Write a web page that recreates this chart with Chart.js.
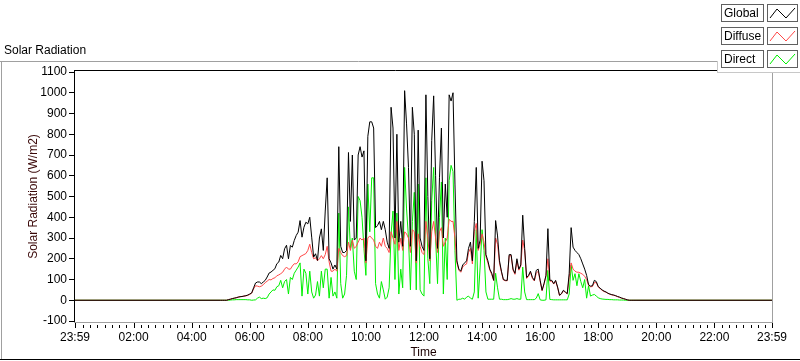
<!DOCTYPE html>
<html>
<head>
<meta charset="utf-8">
<script src="https://cdn.jsdelivr.net/npm/chart.js@4.4.0/dist/chart.umd.min.js"></script>
<style>
  html, body { margin: 0; padding: 0; background: #fff; }
</style>
</head>
<body>
<canvas id="solarChart" width="800" height="361"></canvas>
<script>
'use strict'

// time axis runs from 23:59 the day before to 23:59 (minutes)
const axisStart = -1
const axisEnd = 1439
const xMajorTimes = [-1, 120, 240, 360, 480, 600, 720, 840, 960, 1080, 1200, 1320, 1439]
const yTicks = [-100, 0, 100, 200, 300, 400, 500, 600, 700, 800, 900, 1000, 1100]

// samples every 4 minutes starting 05:00, zero outside
const sampleStartMin = 300
const sampleStepMin = 4

const globalWm2 = [
  0, 0, 0, 0,
  3, 5, 8, 10, 12, 15, 17, 18, 20, 22, 25, 30, 35,
  60, 83, 88, 88, 80, 88, 96, 112, 131, 136, 144, 152, 176, 184,
  216, 200, 248, 265, 200, 264, 256, 288, 312, 328, 384, 304, 352, 376, 368, 400, 304, 208, 224, 192, 300, 344, 240,
  430, 590, 200, 180, 150, 170, 150, 740, 260, 230, 230, 240, 712, 380, 700, 290, 300, 700, 740, 690, 720, 190,
  790, 860, 860, 830, 350, 360, 380, 340, 380, 340, 280, 250, 930, 830, 300, 800, 280, 380, 260, 1010, 850, 640, 260, 930, 800,
  190, 820, 300, 260, 240, 990, 500, 200, 770, 985, 600, 250, 590, 830, 300, 560, 400, 990, 960, 1000, 560,
  190, 150, 140, 170, 180, 190, 250, 280, 190, 380, 640, 250, 290, 670, 576, 220, 190, 150, 130, 96,
  384, 310, 190, 140, 100, 96, 96, 220, 220, 150, 130, 200, 150, 170, 410, 250, 110, 120, 140, 110, 96,
  144, 150, 96, 48, 80, 120, 345, 96, 96, 80, 96, 64, 24, 32, 48, 40, 32,
  130, 350, 256, 240, 230, 220, 200, 175, 150, 120, 75, 68, 70, 96, 90, 66, 58, 50, 44, 40, 34, 30, 27, 25, 22, 18, 15, 11, 8, 5, 2, 0, 0, 0, 0, 0
]

const diffuseWm2 = [
  0, 0, 0, 0,
  3, 5, 8, 10, 12, 15, 17, 18, 20, 21, 24, 28, 34,
  55, 70, 68, 65, 68, 75, 85, 92, 100, 98, 105, 108, 118, 122,
  128, 135, 150, 160, 150, 150, 165, 176, 175, 185, 210, 215, 220, 225, 240, 270, 230, 200, 205, 190, 200, 215, 200,
  220, 260, 185, 140, 140, 150, 140, 250, 230, 215, 210, 215, 280, 240, 290, 250, 260, 280, 300, 290, 300, 180,
  300, 310, 300, 290, 260, 250, 280, 260, 300, 260, 250, 230, 330, 300, 270, 380, 240, 300, 240, 330, 320, 300, 230, 340, 330,
  180, 320, 260, 230, 220, 380, 300, 190, 330, 380, 300, 230, 330, 350, 260, 280, 300, 390, 380, 380, 300,
  180, 145, 135, 160, 170, 175, 230, 250, 175, 330, 370, 240, 270, 320, 280, 210, 180, 145, 125, 95,
  300, 270, 180, 135, 98, 94, 94, 215, 215, 145, 125, 190, 145, 165, 290, 240, 105, 115, 135, 105, 93,
  130, 140, 92, 46, 78, 115, 200, 92, 92, 78, 92, 62, 23, 30, 46, 38, 31,
  110, 180, 150, 140, 135, 135, 130, 125, 115, 100, 72, 65, 66, 85, 85, 64, 56, 48, 42, 39, 33, 29, 26, 24, 21, 17, 14, 10, 8, 5, 2, 0, 0, 0, 0, 0
]

const directWm2 = [
  0, 0, 0, 0,
  0, 1, 2, 2, 3, 3, 3, 3, 3, 3, 2, 2, 0,
  1, 2, 10, 15, 8, 10, 8, 12, 30, 40, 50, 48, 65, 70,
  96, 60, 90, 100, 30, 110, 100, 130, 145, 160, 180, 20, 150, 130, 30, 140, 40, 10, 25, 90, 20, 140, 60,
  150, 150, 10, 110, 20, 40, 10, 420, 80, 10, 30, 120, 450, 250, 300, 140, 100, 500, 480, 400, 250, 120,
  560, 330, 590, 590, 80, 30, 10, 90, 50, 5, 15, 60, 320, 430, 100, 420, 30, 150, 60, 640, 440, 300, 50, 380, 520,
  50, 560, 50, 30, 20, 590, 200, 80, 480, 640, 300, 80, 400, 570, 30, 300, 100, 576, 650, 620, 240,
  0, 5, 5, 10, 5, 15, 20, 10, 5, 40, 340, 10, 160, 340, 240, 40, 5, 5, 5, 5,
  130, 60, 5, 5, 3, 3, 3, 5, 8, 5, 5, 8, 5, 5, 160, 40, 3, 3, 3, 3, 3,
  10, 32, 2, 0, 0, 2, 144, 4, 3, 2, 2, 2, 2, 2, 2, 2, 2,
  30, 170, 96, 128, 70, 128, 90, 60, 100, 10, 70, 20, 25, 28, 20, 12, 8, 6, 5, 4, 4, 3, 3, 2, 2, 2, 1, 1, 1, 0, 0, 0, 0, 0, 0, 0
]

const seriesNames = ['Global', 'Diffuse', 'Direct']
const seriesColors = ['#000000', '#ff4848', '#00f000']

const FONT = '"Liberation Sans", Arial, sans-serif'

function toPoints (values) {
  const pts = [{ x: axisStart, y: 0 }]
  values.forEach((v, i) => pts.push({ x: sampleStartMin + i * sampleStepMin, y: v }))
  pts.push({ x: axisEnd, y: 0 })
  return pts
}

function timeLabel (v) {
  if (v === axisStart || v === axisEnd) return '23:59'
  const h = Math.floor(v / 60)
  const m = v % 60
  return String(h).padStart(2, '0') + ':' + String(m).padStart(2, '0')
}

// frame, x ticks, title and legend drawn the LabVIEW way
const labviewFrame = {
  id: 'labviewFrame',
  beforeDraw (chart) {
    const ctx = chart.ctx
    ctx.save()
    ctx.fillStyle = '#fff'
    ctx.fillRect(0, 0, chart.width, chart.height)
    ctx.restore()
  },
  afterDraw (chart) {
    const ctx = chart.ctx
    const xs = chart.scales.x
    ctx.save()

    // title
    ctx.fillStyle = '#000'
    ctx.font = '12px ' + FONT
    ctx.textBaseline = 'middle'
    ctx.textAlign = 'left'
    ctx.fillText('Solar Radiation', 4, 51)

    // outer frame
    ctx.lineWidth = 1
    ctx.strokeStyle = '#a0a0a0'
    ctx.beginPath()
    ctx.moveTo(0, 61.5); ctx.lineTo(717, 61.5)
    ctx.moveTo(1.5, 61); ctx.lineTo(1.5, 359)
    ctx.stroke()
    ctx.strokeStyle = '#000'
    ctx.beginPath()
    ctx.moveTo(0, 359.5); ctx.lineTo(800, 359.5)
    ctx.stroke()

    // plot border: dark top/left, grey bottom/right
    ctx.strokeStyle = '#000'
    ctx.beginPath()
    ctx.moveTo(74, 70.5); ctx.lineTo(717, 70.5)
    ctx.moveTo(74.5, 70); ctx.lineTo(74.5, 322)
    ctx.stroke()
    ctx.strokeStyle = '#a0a0a0'
    ctx.beginPath()
    ctx.moveTo(74, 322.5); ctx.lineTo(773, 322.5)
    ctx.moveTo(772.5, 72); ctx.lineTo(772.5, 323)
    ctx.stroke()

    // x ticks: minor every 15 min, major at labels
    ctx.fillStyle = '#000'
    for (let t = 15; t < axisEnd; t += 15) {
      if (t % 120 === 0) continue
      ctx.fillRect(Math.round(xs.getPixelForValue(t)), 325, 1, 3)
    }
    xMajorTimes.forEach((t) => {
      ctx.fillRect(Math.round(xs.getPixelForValue(t)), 323, 1, 5)
    })

    // legend panel
    ctx.fillStyle = '#fff'
    ctx.fillRect(717, 0, 83, 72)
    ctx.strokeStyle = '#c8c8c8'
    ctx.beginPath()
    ctx.moveTo(717.5, 61); ctx.lineTo(717.5, 72.5)
    ctx.moveTo(717, 72.5); ctx.lineTo(800, 72.5)
    ctx.stroke()

    seriesNames.forEach((name, k) => {
      const top = 4 + k * 23
      ctx.strokeStyle = '#606060'
      ctx.strokeRect(721.5, top + 0.5, 42, 17)
      ctx.strokeRect(767.5, top + 0.5, 30, 17)
      ctx.fillStyle = '#000'
      ctx.font = '12px ' + FONT
      ctx.textBaseline = 'middle'
      ctx.fillText(name, 724, top + 9.5)
      ctx.strokeStyle = seriesColors[k]
      ctx.beginPath()
      ctx.moveTo(770, top + 14)
      ctx.lineTo(777, top + 5)
      ctx.lineTo(786, top + 14)
      ctx.lineTo(795, top + 4)
      ctx.stroke()
    })

    ctx.restore()
  }
}

const ctx = document.getElementById('solarChart').getContext('2d')
const chart = new Chart(ctx, {
  type: 'line',
  data: {
    datasets: seriesNames.map((name, k) => ({
      label: name,
      data: toPoints([globalWm2, diffuseWm2, directWm2][k]),
      borderColor: seriesColors[k],
      borderWidth: 1,
      pointRadius: 0,
      tension: 0,
      fill: false
    }))
  },
  options: {
    responsive: false,
    animation: false,
    layout: { padding: { top: 72, right: 28, left: 0, bottom: 0 } },
    plugins: {
      legend: { display: false },
      tooltip: { enabled: false }
    },
    scales: {
      x: {
        type: 'linear',
        min: axisStart,
        max: axisEnd,
        afterBuildTicks: (s) => { s.ticks = xMajorTimes.map((v) => ({ value: v })) },
        afterFit: (s) => { s.height = 40 },
        grid: { display: false },
        border: { display: false },
        ticks: {
          padding: 1,
          maxRotation: 0,
          autoSkip: false,
          color: '#000',
          font: { family: FONT, size: 12 },
          callback: (v) => timeLabel(v)
        },
        title: {
          display: true,
          text: 'Time',
          color: '#1a0000',
          font: { family: FONT, size: 12 },
          padding: { top: 0, bottom: 1 }
        }
      },
      y: {
        min: -100,
        max: 1100,
        afterBuildTicks: (s) => { s.ticks = yTicks.map((v) => ({ value: v })) },
        afterFit: (s) => { s.width = 75 },
        grid: { display: true, drawOnChartArea: false, drawTicks: true, tickLength: 6, color: '#000' },
        border: { display: false },
        ticks: {
          padding: 2,
          color: '#000',
          font: { family: FONT, size: 12 },
          callback: (v) => String(v)
        },
        title: {
          display: true,
          text: 'Solar Radiation (W/m2)',
          color: '#3a0808',
          font: { family: FONT, size: 12 },
          padding: { top: 26, bottom: 0 }
        }
      }
    }
  },
  plugins: [labviewFrame]
})
</script>
</body>
</html>
